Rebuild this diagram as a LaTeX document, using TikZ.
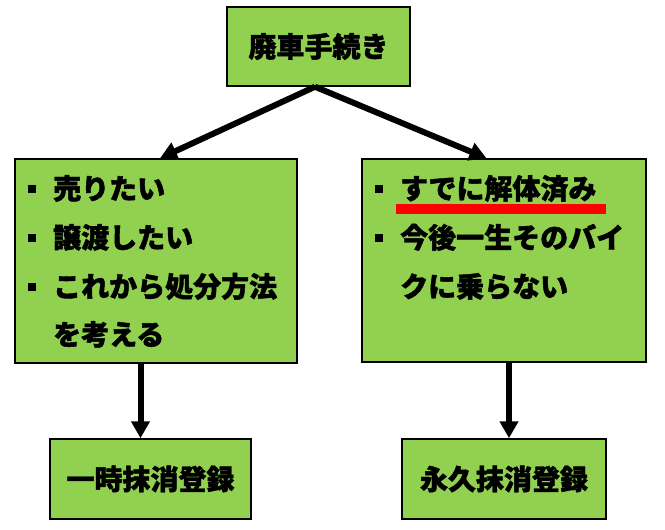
\documentclass[tikz,border=0pt]{standalone}
\usepackage{fontspec}
\newfontfamily\jp{Noto Sans CJK JP}[BoldFeatures={FakeBold=1.5}]
\usetikzlibrary{arrows.meta}
\definecolor{boxgreen}{RGB}{146,208,80}

\begin{document}
\begin{tikzpicture}[x=1pt, y=-1pt,
  box_style/.style={rectangle, draw=black, line width=1.5pt, fill=boxgreen, inner sep=0pt, font=\jp\bfseries\fontsize{28}{34}\selectfont},
  item_style/.style={anchor=base west, inner sep=0pt, font=\jp\bfseries\fontsize{28}{34}\selectfont},
  bullet_style/.style={rectangle, fill=black, minimum size=8pt, inner sep=0pt},
  mark_style/.style={rectangle, fill=red, minimum width=210pt, minimum height=10pt, inner sep=0pt},
  arrow_style/.style={draw=black, line width=6pt, -{Triangle[length=17pt, width=18pt]}}]
  \useasboundingbox (0,0) rectangle (665,530);
  % boxes
  \node[box_style, minimum width=183pt, minimum height=79pt] (scrap) at (318.5,46.5) {廃車手続き};
  \node[box_style, minimum width=282pt, minimum height=204pt] (sell) at (156,261) {};
  \node[box_style, minimum width=284pt, minimum height=203pt] (done) at (504,260.5) {};
  \node[box_style, minimum width=201pt, minimum height=80pt] (temp) at (150.5,479) {一時抹消登録};
  \node[box_style, minimum width=204pt, minimum height=80pt] (perm) at (504,479) {永久抹消登録};
  % left list
  \node[bullet_style] (b1) at (31.5,189) {};
  \node[bullet_style] (b2) at (31.5,238) {};
  \node[bullet_style] (b3) at (31.5,287) {};
  \node[item_style] (t1) at (53,199) {売りたい};
  \node[item_style] (t2) at (53,248) {譲渡したい};
  \node[item_style] (t3) at (53,297) {これから処分方法};
  \node[item_style] (t4) at (53,345) {を考える};
  % right list
  \node[bullet_style] (b4) at (378.5,189) {};
  \node[bullet_style] (b5) at (378.5,238) {};
  \node[item_style] (t5) at (400,199) {すでに解体済み};
  \node[mark_style] (mark) at (501,209) {};
  \node[item_style] (t6) at (400,248) {今後一生そのバイ};
  \node[item_style] (t7) at (400,297) {クに乗らない};
  % arrows
  \draw[arrow_style] ([xshift=-3.5pt]scrap.south) -- ([xshift=4pt]sell.north);
  \draw[arrow_style] ([xshift=-3.5pt]scrap.south) -- ([xshift=-17.5pt]done.north);
  \draw[arrow_style] ([xshift=-10pt]temp.north |- sell.south) -- ([xshift=-10pt]temp.north);
  \draw[arrow_style] ([xshift=5pt]perm.north |- done.south) -- ([xshift=5pt]perm.north);
\end{tikzpicture}
\end{document}
